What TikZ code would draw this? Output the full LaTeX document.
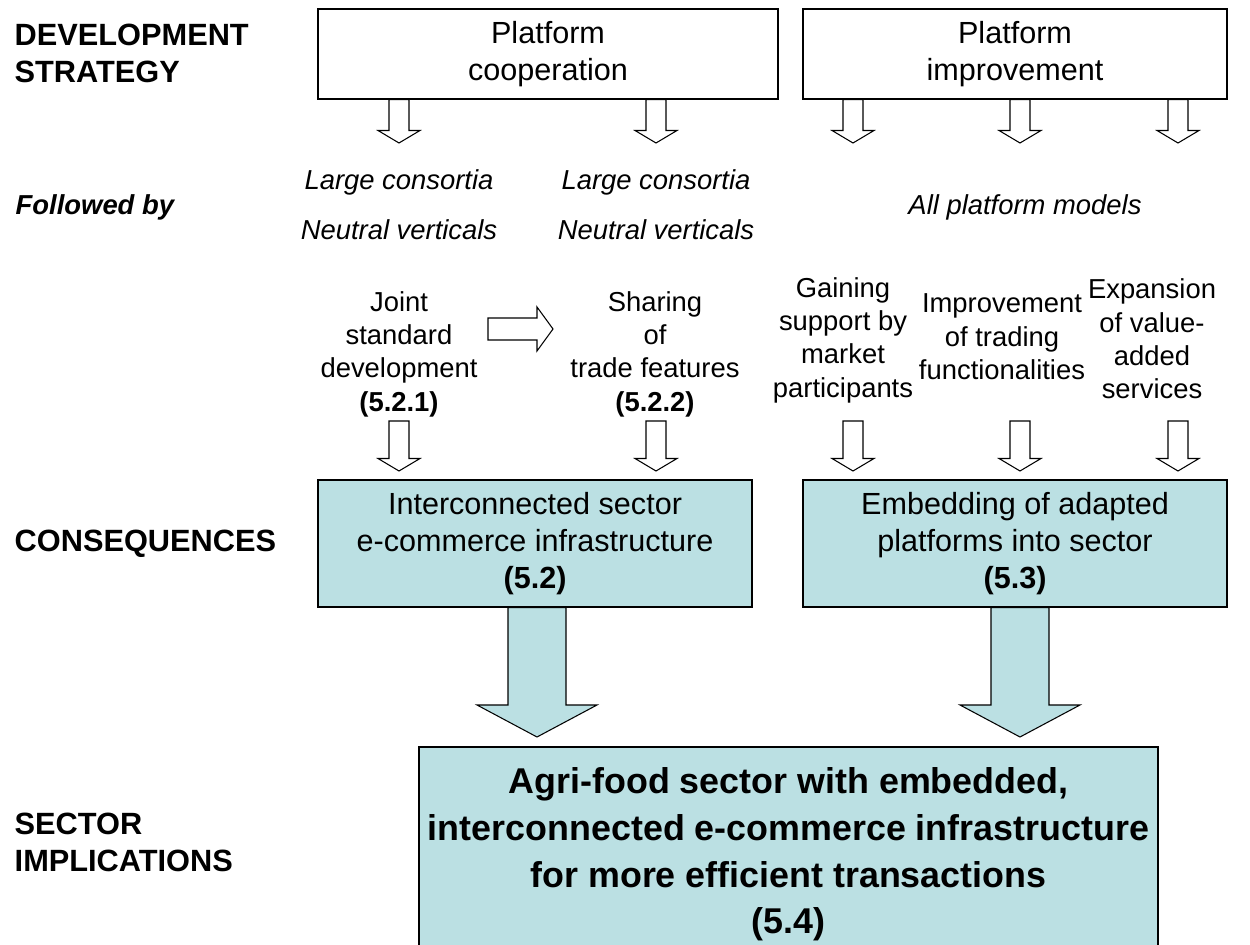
\documentclass[tikz,border=0pt]{standalone}
\usepackage{fontspec}
\setmainfont{Liberation Sans}
\usepackage{tikz}
\usetikzlibrary{positioning,calc}

\definecolor{boxblue}{RGB}{187,224,227}

\newcommand{\blockdn}[6]{%
  \draw[#6] let \p1=#1, \p2=#2 in
    (\x1-#3,\y1) -- (\x1-#3,\y2+#5) -- (\x1-#4,\y2+#5) -- (\x1,\y2)
    -- (\x1+#4,\y2+#5) -- (\x1+#3,\y2+#5) -- (\x1+#3,\y1) -- cycle;}
\newcommand{\smallarrow}[2]{\blockdn{#1}{#2}{0.2cm}{0.42cm}{0.25cm}{fill=white,line width=0.6pt}}
\newcommand{\bigarrow}[2]{\blockdn{#1}{#2}{0.58cm}{1.2cm}{0.64cm}{fill=boxblue,line width=0.6pt}}

\begin{document}
\begin{tikzpicture}[x=0.02cm,y=-0.02cm,line width=0.8pt,
    rowlabel/.style={font=\fontsize{17.5}{21}\selectfont\bfseries,align=left,anchor=west,inner sep=0pt},
    stepnote/.style={font=\fontsize{15.6}{19}\selectfont,align=center,inner sep=0pt},
    modeltext/.style={font=\fontsize{15.6}{19}\selectfont\itshape,anchor=base,inner sep=0pt},
    stratbox/.style={draw,fill=white,minimum width=8.48cm,minimum height=1.8cm,align=center,font=\fontsize{17.4}{21}\selectfont},
    consbox/.style={draw,fill=boxblue,minimum height=2.54cm,align=center,font=\fontsize{17.4}{21}\selectfont}]
    \useasboundingbox (0,0) rectangle (1250,945);

    \node[rowlabel] (devlab) at (14,53) {DEVELOPMENT\\STRATEGY};
    \node[rowlabel,font=\fontsize{15.6}{19}\selectfont\bfseries\itshape,anchor=base west] (followlab) at (15,215) {Followed by};
    \node[rowlabel] (conslab) at (14,544) {CONSEQUENCES};
    \node[rowlabel] (seclab) at (14,842) {SECTOR\\IMPLICATIONS};

    \node[stratbox,minimum width=9.2cm] (coop) at (548,54) {Platform\\cooperation};
    \node[stratbox] (improve) at (1015,54) {Platform\\improvement};

    \node[modeltext] (lc1) at (399,190) {Large consortia};
    \node[modeltext] (nv1) at (399,240) {Neutral verticals};
    \node[modeltext] (lc2) at (656,190) {Large consortia};
    \node[modeltext] (nv2) at (656,240) {Neutral verticals};
    \node[modeltext] (allmod) at (1025,215) {All platform models};

    \node[stepnote] (joint) at (399,354) {Joint\\standard\\development\\\textbf{(5.2.1)}};
    \node[stepnote] (share) at (655,354) {Sharing\\of\\trade features\\\textbf{(5.2.2)}};
    \node[stepnote] (gain) at (843,340) {Gaining\\support by\\market\\participants};
    \node[stepnote] (trading) at (1002,337) {Improvement\\of trading\\functionalities};
    \node[stepnote] (expand) at (1152,339) {Expansion\\of value-\\added\\services};

    \node[consbox,minimum width=8.68cm] (infra) at (535,543.5) {Interconnected sector\\e-commerce infrastructure\\\textbf{(5.2)}};
    \node[consbox,minimum width=8.48cm] (embed) at (1015,543.5) {Embedding of adapted\\platforms into sector\\\textbf{(5.3)}};
    \node[draw,fill=boxblue,minimum width=14.78cm,minimum height=4.3cm,align=center,font=\fontsize{20.4}{26.6}\selectfont\bfseries] (agri) at (788.5,854.5) {Agri-food sector with embedded,\\interconnected e-commerce infrastructure\\for more efficient transactions\\(5.4)};

    \smallarrow{(lc1 |- coop.south)}{(lc1 |- 0,143)}
    \smallarrow{(lc2 |- coop.south)}{(lc2 |- 0,143)}
    \smallarrow{(853,0 |- improve.south)}{(853,143)}
    \smallarrow{(1020,0 |- improve.south)}{(1020,143)}
    \smallarrow{(1178,0 |- improve.south)}{(1178,143)}

    \coordinate (jsstart) at (488,329);
    \coordinate (jsend) at (553,329);
    \draw[fill=white,line width=0.6pt] let \p1=(jsstart), \p2=(jsend) in
        (\x1,\y1+0.22cm) -- (\x2-0.32cm,\y1+0.22cm) -- (\x2-0.32cm,\y1+0.44cm) -- (\x2,\y1)
        -- (\x2-0.32cm,\y1-0.44cm) -- (\x2-0.32cm,\y1-0.22cm) -- (\x1,\y1-0.22cm) -- cycle;

    \smallarrow{(joint |- 0,421)}{(joint |- 0,471)}
    \smallarrow{(656,421)}{(656,471)}
    \smallarrow{(853,421)}{(853,471)}
    \smallarrow{(1020,421)}{(1020,471)}
    \smallarrow{(1178,421)}{(1178,471)}

    \bigarrow{(537,0 |- infra.south)}{(537,737)}
    \bigarrow{(1020,0 |- embed.south)}{(1020,737)}
\end{tikzpicture}
\end{document}
